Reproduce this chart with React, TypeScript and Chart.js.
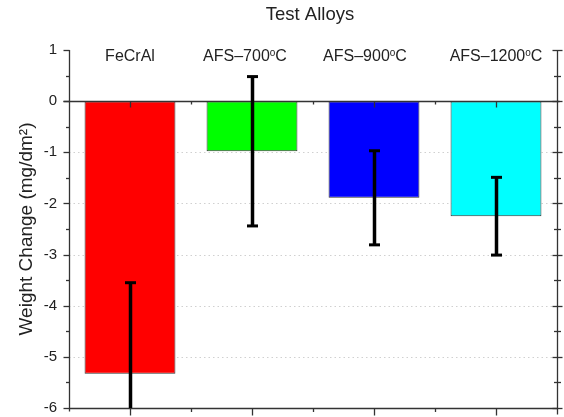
import React, { useEffect, useRef } from "react";
import { Chart, registerables } from "chart.js";

Chart.register(...registerables);

// ---- data ----
const CATEGORIES = ["FeCrAl", "AFS–700°C", "AFS–900°C", "AFS–1200°C"];
const WEIGHT_CHANGE = [-5.33, -0.98, -1.89, -2.25];
const ERRORS = [1.78, 1.46, 0.92, 0.76];
const BAR_COLORS = ["#ff0000", "#00ff00", "#0000ff", "#00ffff"];
const Y_MIN = -6;
const Y_MAX = 1;
const TITLE = "Test Alloys";
const Y_TITLE = "Weight Change (mg/dm²)";

// ---- layout / style constants ----
const FONT = '"Liberation Sans", Arial, sans-serif';
const TEXT_COLOR = "#222";
const AXIS_COLOR = "#333";
const LABEL_DX = [0, -7, -9, 0];

function drawLabel(ctx: CanvasRenderingContext2D, text: string, cx: number, cy: number) {
  const main = `16px ${FONT}`;
  const small = `10px ${FONT}`;
  const parts = text.split("°");
  ctx.textBaseline = "middle";
  ctx.textAlign = "left";
  if (parts.length === 1) {
    ctx.font = main;
    const w = ctx.measureText(text).width;
    ctx.fillText(text, cx - w / 2, cy);
    return;
  }
  ctx.font = main;
  const w1 = ctx.measureText(parts[0]).width;
  const w3 = ctx.measureText(parts[1]).width;
  ctx.font = small;
  const w2 = ctx.measureText("o").width;
  const total = w1 + w2 + w3;
  const x0 = cx - total / 2;
  ctx.font = main;
  ctx.fillText(parts[0], x0, cy);
  ctx.font = small;
  ctx.fillText("o", x0 + w1, cy - 3.5);
  ctx.font = main;
  ctx.fillText(parts[1], x0 + w1 + w2, cy);
}

const decorPlugin = {
  id: "decor",
  beforeDatasetsDraw(chart: any) {
    const { ctx, chartArea: ca, scales } = chart;
    const y = scales.y;
    ctx.save();
    ctx.strokeStyle = "#d0d0d0";
    ctx.lineWidth = 1;
    ctx.setLineDash([1.5, 3]);
    for (const t of y.ticks) {
      const v = t.value;
      if (v === Y_MIN || v === Y_MAX || v === 0) continue;
      const py = Math.round(y.getPixelForValue(v)) + 0.5;
      ctx.beginPath();
      ctx.moveTo(ca.left, py);
      ctx.lineTo(ca.right, py);
      ctx.stroke();
    }
    ctx.restore();
  },
  afterDatasetsDraw(chart: any) {
    const { ctx, chartArea: ca, scales } = chart;
    const x = scales.x;
    const y = scales.y;
    const L = ca.left + 0.5;
    const R = ca.right + 0.5;
    const T = ca.top;
    const B = Math.round(ca.bottom) + 0.5;
    const n = CATEGORIES.length;
    const step = (ca.right - ca.left) / n;

    ctx.save();
    ctx.strokeStyle = AXIS_COLOR;
    ctx.lineWidth = 1.3;
    const line = (x1: number, y1: number, x2: number, y2: number) => {
      ctx.beginPath();
      ctx.moveTo(x1, y1);
      ctx.lineTo(x2, y2);
      ctx.stroke();
    };

    // zero line
    const y0 = Math.round(y.getPixelForValue(0)) + 0.5;
    line(L - 6, y0, R + 2, y0);
    for (let i = 0; i < n; i++) {
      const cx = Math.round(x.getPixelForValue(i)) + 0.5;
      line(cx, y0, cx, y0 + 6);
      if (i > 0) {
        const bx = Math.round(ca.left + step * i) + 0.5;
        line(bx, y0, bx, y0 + 3);
      }
    }

    // left & right axes
    line(L, T, L, B + 3);
    line(R, T, R, B + 6);
    for (let v = Y_MIN; v <= Y_MAX; v += 0.5) {
      const py = Math.round(y.getPixelForValue(v)) + 0.5;
      const major = Number.isInteger(v);
      line(L - (major ? 6 : 3.5), py, L, py);
      if (major) line(R - 5, py, R + 5, py);
      else line(R - 3.5, py, R + 3.5, py);
    }

    // bottom axis
    line(L, B, R, B);
    for (let i = 0; i < n; i++) {
      const cx = Math.round(x.getPixelForValue(i)) + 0.5;
      line(cx, B, cx, B + 7);
      if (i > 0) {
        const bx = Math.round(ca.left + step * i) + 0.5;
        line(bx, B, bx, B + 3.5);
      }
    }

    // error bars
    ctx.save();
    ctx.beginPath();
    ctx.rect(ca.left, ca.top - 2, ca.right - ca.left, ca.bottom - ca.top + 2);
    ctx.clip();
    ctx.strokeStyle = "#000";
    for (let i = 0; i < n; i++) {
      const cx = Math.round(x.getPixelForValue(i)) + 0.5;
      const top = y.getPixelForValue(WEIGHT_CHANGE[i] + ERRORS[i]);
      const bot = y.getPixelForValue(WEIGHT_CHANGE[i] - ERRORS[i]);
      ctx.lineWidth = 3.5;
      line(cx, top, cx, bot);
      ctx.lineWidth = 3;
      line(cx - 5.5, top, cx + 5.5, top);
      line(cx - 5.5, bot, cx + 5.5, bot);
    }
    ctx.restore();

    // category labels
    ctx.fillStyle = TEXT_COLOR;
    for (let i = 0; i < n; i++) {
      drawLabel(ctx, CATEGORIES[i], x.getPixelForValue(i) + LABEL_DX[i], 57);
    }

    // title
    ctx.font = `18.5px ${FONT}`;
    ctx.textAlign = "center";
    ctx.textBaseline = "middle";
    ctx.fillText(TITLE, (ca.left + ca.right) / 2 - 3, 15);
    ctx.restore();
  },
};

export default function App() {
  const ref = useRef<HTMLCanvasElement | null>(null);
  useEffect(() => {
    if (!ref.current) return;
    const chart = new Chart(ref.current, {
      type: "bar",
      data: {
        labels: CATEGORIES,
        datasets: [
          {
            data: WEIGHT_CHANGE,
            backgroundColor: BAR_COLORS,
            borderColor: "#333",
            borderWidth: 1,
            borderSkipped: false,
            barPercentage: 0.745,
            categoryPercentage: 1,
          },
        ],
      },
      options: {
        responsive: false,
        animation: false,
        layout: { padding: { left: 0, right: 7, top: 50, bottom: 9 } },
        plugins: { legend: { display: false }, tooltip: { enabled: false }, title: { display: false } },
        scales: {
          x: { type: "category", display: false, offset: true },
          y: {
            min: Y_MIN,
            max: Y_MAX,
            afterFit: (s: any) => {
              s.width = 69;
              s.paddingTop = 0;
              s.paddingBottom = 0;
            },
            ticks: {
              stepSize: 1,
              color: TEXT_COLOR,
              font: { family: FONT, size: 15 },
              padding: 12,
            },
            grid: { display: false, drawTicks: false },
            border: { display: false },
            title: {
              display: true,
              text: Y_TITLE,
              color: TEXT_COLOR,
              font: { family: FONT, size: 19 },
              padding: { top: 15, bottom: 0 },
            },
          },
        },
      },
      plugins: [decorPlugin],
    });
    return () => chart.destroy();
  }, []);
  return (
    <div style={{ position: "fixed", left: 0, top: 0, width: 564, height: 417, background: "#fff" }}>
      <canvas ref={ref} width={564} height={417} style={{ display: "block" }} />
    </div>
  );
}
